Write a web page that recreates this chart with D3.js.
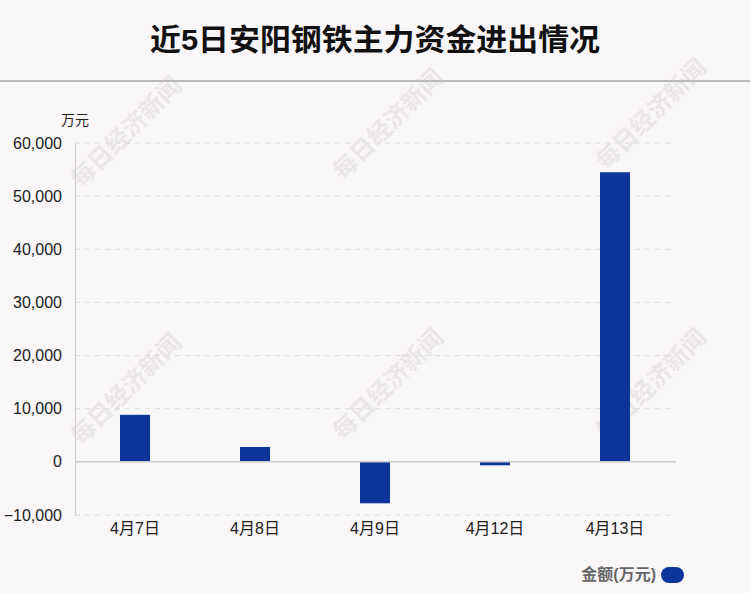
<!DOCTYPE html>
<html><head><meta charset="utf-8">
<script src="https://cdn.jsdelivr.net/npm/d3@7/dist/d3.min.js"></script>
<style>body{margin:0;background:#f9f6f7;}svg{display:block;font-family:"Liberation Sans","Noto Sans CJK SC",sans-serif;}</style>
</head><body>
<script>
const categories = ["4月7日","4月8日","4月9日","4月12日","4月13日"];
const values = [8850, 2800, -7800, -650, 54500];
const yTicks = [-10000,0,10000,20000,30000,40000,50000,60000];
const title = "近5日安阳钢铁主力资金进出情况";
const unitLabel = "万元";
const legendLabel = "金额(万元)";
const watermark = "每日经济新闻";

const W=750,H=593;
const svg=d3.select("body").append("svg").attr("width",W).attr("height",H);
svg.append("rect").attr("width",W).attr("height",H).attr("fill","#f9f6f7");

// watermarks
const wm=[[132,138],[394,130],[657,120],[132,395],[394,390],[657,390]];
wm.forEach(([x,y])=>{
  svg.append("text").attr("transform",`translate(${x},${y}) rotate(-45)`)
    .attr("text-anchor","middle").attr("font-size",24).attr("font-weight","bold")
    .attr("fill","#000").attr("opacity",0.055).text(watermark);
});

svg.append("text").attr("x",375).attr("y",50).attr("text-anchor","middle")
  .attr("font-size",30).attr("font-weight","bold").attr("fill","#111")
  .attr("textLength",450).attr("lengthAdjust","spacingAndGlyphs").text(title);
svg.append("line").attr("x1",0).attr("x2",W).attr("y1",81).attr("y2",81)
  .attr("stroke","#bbb").attr("stroke-width",2);

const x=d3.scaleBand().domain(categories).range([75,675]);
const y=d3.scaleLinear().domain([-10000,60000]).range([515,143]);

// grid
svg.append("g").selectAll("line").data(yTicks.filter(d=>d!==0)).join("line")
  .attr("x1",75).attr("x2",675).attr("y1",d=>y(d)).attr("y2",d=>y(d))
  .attr("stroke","#ddd").attr("stroke-dasharray","5,5");

// y axis
const ya=svg.append("g").attr("transform","translate(75,0)")
  .call(d3.axisLeft(y).tickValues(yTicks).tickSize(0).tickPadding(13).tickFormat(d3.format(",")));
ya.select(".domain").attr("stroke","#ccc");
ya.selectAll("text").attr("font-size",16).attr("fill","#222")
  .attr("font-family","Liberation Sans, sans-serif");

svg.append("text").attr("x",75).attr("y",125).attr("text-anchor","middle")
  .attr("font-size",14).attr("fill","#222").text(unitLabel);

// bars
const bw=30;
svg.append("g").selectAll("rect").data(values).join("rect")
  .attr("x",(d,i)=>x(categories[i])+x.bandwidth()/2-bw/2)
  .attr("width",bw)
  .attr("y",d=>y(Math.max(0,d)))
  .attr("height",d=>Math.abs(y(d)-y(0)))
  .attr("fill","#0d349a");

// zero line
svg.append("line").attr("x1",75).attr("x2",676).attr("y1",y(0)).attr("y2",y(0))
  .attr("stroke","#ccc").attr("stroke-width",1.5);

// x labels
const xa=svg.append("g").attr("transform","translate(0,515)")
  .call(d3.axisBottom(x).tickSize(0).tickPadding(8));
xa.select(".domain").remove();
xa.selectAll("text").attr("font-size",16).attr("fill","#222")
  .attr("font-family","Liberation Sans, Noto Sans CJK SC, sans-serif");

// legend
svg.append("text").attr("x",656).attr("y",580).attr("text-anchor","end")
  .attr("font-size",16).attr("font-weight","bold").attr("fill","#666").text(legendLabel);
svg.append("rect").attr("x",661).attr("y",567).attr("width",23).attr("height",16)
  .attr("rx",8).attr("fill","#0d349a");
</script>
</body></html>
